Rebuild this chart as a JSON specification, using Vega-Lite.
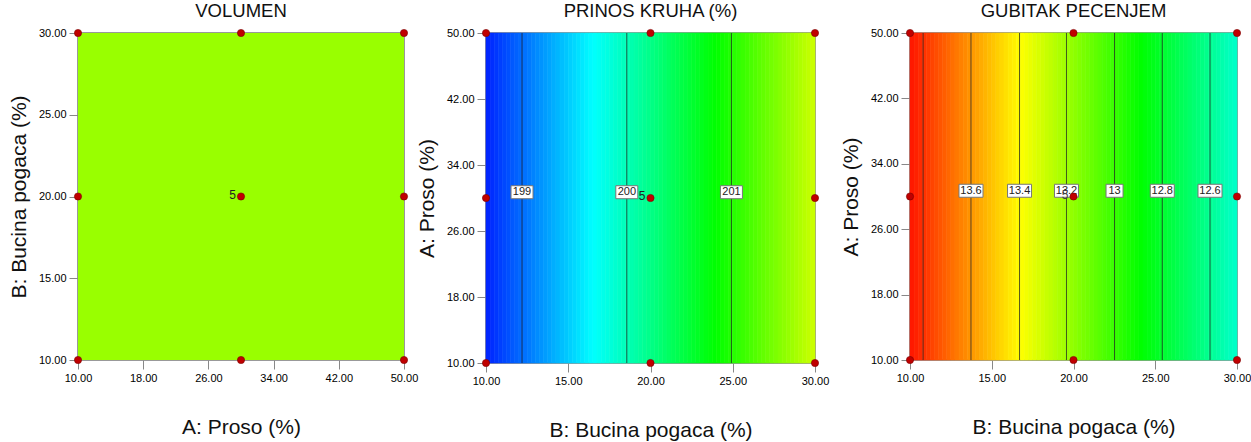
{
"$schema": "https://vega.github.io/schema/vega-lite/v6.json",
"padding": {"left": 7, "top": 1, "right": 0, "bottom": 0},
"bounds": "flush",
"spacing": 82,
"config": {
 "view": {"stroke": "#999999", "strokeWidth": 2},
 "axis": {"grid": false, "domain": false, "tickColor": "#888888", "tickSize": 9, "labelPadding": 3, "labelFont": "Liberation Sans", "labelFontSize": 11, "labelColor": "#000000", "labelFlush": false, "labelOverlap": false, "labelBound": false, "titleFont": "Liberation Sans", "titleFontSize": 21, "titleFontWeight": "normal", "titleColor": "#111111"},
 "axisX": {"titlePadding": 33},
 "axisY": {"titlePadding": 9},
 "title": {"font": "Liberation Sans", "fontSize": 18.5, "fontWeight": "normal", "color": "#111111", "baseline": "alphabetic", "offset": 6.5, "anchor": "middle"}
},
"datasets": {
 "design": [{"A":10,"B":10},{"A":10,"B":20},{"A":10,"B":30},{"A":30,"B":10},{"A":30,"B":20},{"A":30,"B":30},{"A":50,"B":10},{"A":50,"B":20},{"A":50,"B":30}],
 "center": [{"A":30,"B":20,"n":"5"}],
 "vol": [{"A":10,"A2":50,"B":10,"B2":30}],
 "yieldLevels": [{"B":12.19,"level":199},{"B":18.56,"level":200},{"B":24.92,"level":201}],
 "lossLevels": [{"B":10.80,"level":13.8},{"B":13.73,"level":13.6},{"B":16.70,"level":13.4},{"B":19.57,"level":13.2},{"B":22.51,"level":13},{"B":25.43,"level":12.8},{"B":28.35,"level":12.6}],
 "yieldCells": [
{"B":10,"B2":10.25,"v":198.676},{"B":10.25,"B2":10.5,"v":198.715},{"B":10.5,"B2":10.75,"v":198.754},{"B":10.75,"B2":11,"v":198.794},
{"B":11,"B2":11.25,"v":198.833},{"B":11.25,"B2":11.5,"v":198.872},{"B":11.5,"B2":11.75,"v":198.912},{"B":11.75,"B2":12,"v":198.951},
{"B":12,"B2":12.25,"v":198.990},{"B":12.25,"B2":12.5,"v":199.029},{"B":12.5,"B2":12.75,"v":199.069},{"B":12.75,"B2":13,"v":199.108},
{"B":13,"B2":13.25,"v":199.147},{"B":13.25,"B2":13.5,"v":199.187},{"B":13.5,"B2":13.75,"v":199.226},{"B":13.75,"B2":14,"v":199.265},
{"B":14,"B2":14.25,"v":199.304},{"B":14.25,"B2":14.5,"v":199.344},{"B":14.5,"B2":14.75,"v":199.383},{"B":14.75,"B2":15,"v":199.422},
{"B":15,"B2":15.25,"v":199.462},{"B":15.25,"B2":15.5,"v":199.501},{"B":15.5,"B2":15.75,"v":199.540},{"B":15.75,"B2":16,"v":199.579},
{"B":16,"B2":16.25,"v":199.619},{"B":16.25,"B2":16.5,"v":199.658},{"B":16.5,"B2":16.75,"v":199.697},{"B":16.75,"B2":17,"v":199.737},
{"B":17,"B2":17.25,"v":199.776},{"B":17.25,"B2":17.5,"v":199.815},{"B":17.5,"B2":17.75,"v":199.854},{"B":17.75,"B2":18,"v":199.894},
{"B":18,"B2":18.25,"v":199.933},{"B":18.25,"B2":18.5,"v":199.972},{"B":18.5,"B2":18.75,"v":200.012},{"B":18.75,"B2":19,"v":200.051},
{"B":19,"B2":19.25,"v":200.090},{"B":19.25,"B2":19.5,"v":200.129},{"B":19.5,"B2":19.75,"v":200.169},{"B":19.75,"B2":20,"v":200.208},
{"B":20,"B2":20.25,"v":200.247},{"B":20.25,"B2":20.5,"v":200.287},{"B":20.5,"B2":20.75,"v":200.326},{"B":20.75,"B2":21,"v":200.365},
{"B":21,"B2":21.25,"v":200.404},{"B":21.25,"B2":21.5,"v":200.444},{"B":21.5,"B2":21.75,"v":200.483},{"B":21.75,"B2":22,"v":200.522},
{"B":22,"B2":22.25,"v":200.562},{"B":22.25,"B2":22.5,"v":200.601},{"B":22.5,"B2":22.75,"v":200.640},{"B":22.75,"B2":23,"v":200.679},
{"B":23,"B2":23.25,"v":200.719},{"B":23.25,"B2":23.5,"v":200.758},{"B":23.5,"B2":23.75,"v":200.797},{"B":23.75,"B2":24,"v":200.837},
{"B":24,"B2":24.25,"v":200.876},{"B":24.25,"B2":24.5,"v":200.915},{"B":24.5,"B2":24.75,"v":200.954},{"B":24.75,"B2":25,"v":200.994},
{"B":25,"B2":25.25,"v":201.033},{"B":25.25,"B2":25.5,"v":201.072},{"B":25.5,"B2":25.75,"v":201.112},{"B":25.75,"B2":26,"v":201.151},
{"B":26,"B2":26.25,"v":201.190},{"B":26.25,"B2":26.5,"v":201.229},{"B":26.5,"B2":26.75,"v":201.269},{"B":26.75,"B2":27,"v":201.308},
{"B":27,"B2":27.25,"v":201.347},{"B":27.25,"B2":27.5,"v":201.387},{"B":27.5,"B2":27.75,"v":201.426},{"B":27.75,"B2":28,"v":201.465},
{"B":28,"B2":28.25,"v":201.504},{"B":28.25,"B2":28.5,"v":201.544},{"B":28.5,"B2":28.75,"v":201.583},{"B":28.75,"B2":29,"v":201.622},
{"B":29,"B2":29.25,"v":201.662},{"B":29.25,"B2":29.5,"v":201.701},{"B":29.5,"B2":29.75,"v":201.740},{"B":29.75,"B2":30,"v":201.779}
 ],
 "lossCells": [
{"B":10,"B2":10.25,"v":13.8462},{"B":10.25,"B2":10.5,"v":13.8291},{"B":10.5,"B2":10.75,"v":13.8120},{"B":10.75,"B2":11,"v":13.7949},
{"B":11,"B2":11.25,"v":13.7778},{"B":11.25,"B2":11.5,"v":13.7607},{"B":11.5,"B2":11.75,"v":13.7436},{"B":11.75,"B2":12,"v":13.7265},
{"B":12,"B2":12.25,"v":13.7094},{"B":12.25,"B2":12.5,"v":13.6923},{"B":12.5,"B2":12.75,"v":13.6753},{"B":12.75,"B2":13,"v":13.6582},
{"B":13,"B2":13.25,"v":13.6411},{"B":13.25,"B2":13.5,"v":13.6240},{"B":13.5,"B2":13.75,"v":13.6069},{"B":13.75,"B2":14,"v":13.5898},
{"B":14,"B2":14.25,"v":13.5727},{"B":14.25,"B2":14.5,"v":13.5556},{"B":14.5,"B2":14.75,"v":13.5385},{"B":14.75,"B2":15,"v":13.5214},
{"B":15,"B2":15.25,"v":13.5043},{"B":15.25,"B2":15.5,"v":13.4872},{"B":15.5,"B2":15.75,"v":13.4701},{"B":15.75,"B2":16,"v":13.4530},
{"B":16,"B2":16.25,"v":13.4359},{"B":16.25,"B2":16.5,"v":13.4188},{"B":16.5,"B2":16.75,"v":13.4017},{"B":16.75,"B2":17,"v":13.3846},
{"B":17,"B2":17.25,"v":13.3675},{"B":17.25,"B2":17.5,"v":13.3504},{"B":17.5,"B2":17.75,"v":13.3334},{"B":17.75,"B2":18,"v":13.3163},
{"B":18,"B2":18.25,"v":13.2992},{"B":18.25,"B2":18.5,"v":13.2821},{"B":18.5,"B2":18.75,"v":13.2650},{"B":18.75,"B2":19,"v":13.2479},
{"B":19,"B2":19.25,"v":13.2308},{"B":19.25,"B2":19.5,"v":13.2137},{"B":19.5,"B2":19.75,"v":13.1966},{"B":19.75,"B2":20,"v":13.1795},
{"B":20,"B2":20.25,"v":13.1624},{"B":20.25,"B2":20.5,"v":13.1453},{"B":20.5,"B2":20.75,"v":13.1282},{"B":20.75,"B2":21,"v":13.1111},
{"B":21,"B2":21.25,"v":13.0940},{"B":21.25,"B2":21.5,"v":13.0769},{"B":21.5,"B2":21.75,"v":13.0598},{"B":21.75,"B2":22,"v":13.0427},
{"B":22,"B2":22.25,"v":13.0256},{"B":22.25,"B2":22.5,"v":13.0085},{"B":22.5,"B2":22.75,"v":12.9915},{"B":22.75,"B2":23,"v":12.9744},
{"B":23,"B2":23.25,"v":12.9573},{"B":23.25,"B2":23.5,"v":12.9402},{"B":23.5,"B2":23.75,"v":12.9231},{"B":23.75,"B2":24,"v":12.9060},
{"B":24,"B2":24.25,"v":12.8889},{"B":24.25,"B2":24.5,"v":12.8718},{"B":24.5,"B2":24.75,"v":12.8547},{"B":24.75,"B2":25,"v":12.8376},
{"B":25,"B2":25.25,"v":12.8205},{"B":25.25,"B2":25.5,"v":12.8034},{"B":25.5,"B2":25.75,"v":12.7863},{"B":25.75,"B2":26,"v":12.7692},
{"B":26,"B2":26.25,"v":12.7521},{"B":26.25,"B2":26.5,"v":12.7350},{"B":26.5,"B2":26.75,"v":12.7179},{"B":26.75,"B2":27,"v":12.7008},
{"B":27,"B2":27.25,"v":12.6837},{"B":27.25,"B2":27.5,"v":12.6666},{"B":27.5,"B2":27.75,"v":12.6496},{"B":27.75,"B2":28,"v":12.6325},
{"B":28,"B2":28.25,"v":12.6154},{"B":28.25,"B2":28.5,"v":12.5983},{"B":28.5,"B2":28.75,"v":12.5812},{"B":28.75,"B2":29,"v":12.5641},
{"B":29,"B2":29.25,"v":12.5470},{"B":29.25,"B2":29.5,"v":12.5299},{"B":29.5,"B2":29.75,"v":12.5128},{"B":29.75,"B2":30,"v":12.4957}
 ]
},
"resolve": {"scale": {"fill": "independent", "stroke": "independent"}},
"hconcat": [
 {
  "width": 326, "height": 327,
  "title": "VOLUMEN",
  "layer": [
   {"data": {"name": "vol"}, "mark": {"type": "rect", "fill": "#99ff00"},
    "encoding": {
     "x": {"field": "A", "type": "quantitative", "scale": {"domain": [10, 50], "nice": false, "zero": false}, "axis": {"values": [10, 18, 26, 34, 42, 50], "format": ".2f", "title": "A: Proso (%)"}},
     "x2": {"field": "A2"},
     "y": {"field": "B", "type": "quantitative", "scale": {"domain": [10, 30], "nice": false, "zero": false}, "axis": {"values": [10, 15, 20, 25, 30], "format": ".2f", "title": "B: Bucina pogaca (%)"}},
     "y2": {"field": "B2"}
    }},
   {"data": {"name": "center"}, "mark": {"type": "text", "align": "right", "baseline": "middle", "dx": -5, "dy": -2, "font": "Liberation Sans", "fontSize": 12, "color": "#222222"},
    "encoding": {"x": {"field": "A", "type": "quantitative"}, "y": {"field": "B", "type": "quantitative"}, "text": {"field": "n", "type": "nominal"}}},
   {"data": {"name": "design"}, "mark": {"type": "point", "filled": true, "shape": "circle", "size": 52, "color": "#c00000", "stroke": "#7a0000", "strokeWidth": 0.6, "opacity": 1},
    "encoding": {"x": {"field": "A", "type": "quantitative"}, "y": {"field": "B", "type": "quantitative"}}}
  ]
 },
 {
  "bounds": "flush",
  "spacing": 95,
  "resolve": {"scale": {"fill": "independent", "stroke": "independent"}},
  "hconcat": [
   {
    "width": 329, "height": 330,
    "title": "PRINOS KRUHA (%)",
    "layer": [
     {"data": {"name": "yieldCells"}, "mark": {"type": "rect", "strokeWidth": 0.6},
      "encoding": {
       "x": {"field": "B", "type": "quantitative", "scale": {"domain": [10, 30], "nice": false, "zero": false}, "axis": {"values": [10, 15, 20, 25, 30], "format": ".2f", "title": "B: Bucina pogaca (%)"}},
       "x2": {"field": "B2"},
       "y": {"datum": 10, "type": "quantitative", "scale": {"domain": [10, 50], "nice": false, "zero": false}, "axis": {"values": [10, 18, 26, 34, 42, 50], "format": ".2f", "title": "A: Proso (%)"}},
       "y2": {"datum": 50},
       "fill": {"field": "v", "type": "quantitative", "scale": {"domain": [198.50, 199.68, 200.85, 202.03, 203.21], "range": ["#0000ff", "#00ffff", "#00ff00", "#ffff00", "#ff0000"], "interpolate": "rgb"}, "legend": null},
       "stroke": {"field": "v", "type": "quantitative", "scale": {"domain": [198.50, 199.68, 200.85, 202.03, 203.21], "range": ["#0000ff", "#00ffff", "#00ff00", "#ffff00", "#ff0000"], "interpolate": "rgb"}, "legend": null}
      }},
     {"data": {"name": "yieldLevels"}, "mark": {"type": "rule", "color": "#222222", "opacity": 0.75, "strokeWidth": 1},
      "encoding": {"x": {"field": "B", "type": "quantitative"}, "y": {"datum": 10, "type": "quantitative"}, "y2": {"datum": 50}}},
     {"data": {"name": "yieldLevels"}, "mark": {"type": "rect", "width": 22, "height": 13, "fill": "#ffffff", "stroke": "#777777", "strokeWidth": 1},
      "encoding": {"x": {"field": "B", "type": "quantitative"}, "y": {"datum": 30.7, "type": "quantitative"}}},
     {"data": {"name": "yieldLevels"}, "mark": {"type": "text", "align": "center", "baseline": "middle", "font": "Liberation Sans", "fontSize": 11, "color": "#222222"},
      "encoding": {"x": {"field": "B", "type": "quantitative"}, "y": {"datum": 30.7, "type": "quantitative"}, "text": {"field": "level", "type": "nominal"}}},
     {"data": {"name": "center"}, "mark": {"type": "text", "align": "right", "baseline": "middle", "dx": -5, "dy": -2, "font": "Liberation Sans", "fontSize": 12, "color": "#222222"},
      "encoding": {"x": {"field": "B", "type": "quantitative"}, "y": {"field": "A", "type": "quantitative"}, "text": {"field": "n", "type": "nominal"}}},
     {"data": {"name": "design"}, "mark": {"type": "point", "filled": true, "shape": "circle", "size": 52, "color": "#c00000", "stroke": "#7a0000", "strokeWidth": 0.6, "opacity": 1},
      "encoding": {"x": {"field": "B", "type": "quantitative"}, "y": {"field": "A", "type": "quantitative"}}}
    ]
   },
   {
    "width": 327, "height": 327,
    "title": "GUBITAK PECENJEM",
    "layer": [
     {"data": {"name": "lossCells"}, "mark": {"type": "rect", "strokeWidth": 0.6},
      "encoding": {
       "x": {"field": "B", "type": "quantitative", "scale": {"domain": [10, 30], "nice": false, "zero": false}, "axis": {"values": [10, 15, 20, 25, 30], "format": ".2f", "title": "B: Bucina pogaca (%)"}},
       "x2": {"field": "B2"},
       "y": {"datum": 10, "type": "quantitative", "scale": {"domain": [10, 50], "nice": false, "zero": false}, "axis": {"values": [10, 18, 26, 34, 42, 50], "format": ".2f", "title": "A: Proso (%)"}},
       "y2": {"datum": 50},
       "fill": {"field": "v", "type": "quantitative", "scale": {"domain": [11.883, 12.386, 12.889, 13.392, 13.895], "range": ["#0000ff", "#00ffff", "#00ff00", "#ffff00", "#ff0000"], "interpolate": "rgb"}, "legend": null},
       "stroke": {"field": "v", "type": "quantitative", "scale": {"domain": [11.883, 12.386, 12.889, 13.392, 13.895], "range": ["#0000ff", "#00ffff", "#00ff00", "#ffff00", "#ff0000"], "interpolate": "rgb"}, "legend": null}
      }},
     {"data": {"name": "lossLevels"}, "mark": {"type": "rule", "color": "#222222", "opacity": 0.75, "strokeWidth": 1},
      "encoding": {"x": {"field": "B", "type": "quantitative"}, "y": {"datum": 10, "type": "quantitative"}, "y2": {"datum": 50}}},
     {"data": {"name": "lossLevels"}, "transform": [{"filter": "datum.level <= 13.6 && datum.level != 13"}],
      "mark": {"type": "rect", "width": 24, "height": 13, "fill": "#ffffff", "stroke": "#777777", "strokeWidth": 1},
      "encoding": {"x": {"field": "B", "type": "quantitative"}, "y": {"datum": 30.7, "type": "quantitative"}}},
     {"data": {"name": "lossLevels"}, "transform": [{"filter": "datum.level == 13"}],
      "mark": {"type": "rect", "width": 17, "height": 13, "fill": "#ffffff", "stroke": "#777777", "strokeWidth": 1},
      "encoding": {"x": {"field": "B", "type": "quantitative"}, "y": {"datum": 30.7, "type": "quantitative"}}},
     {"data": {"name": "lossLevels"}, "transform": [{"filter": "datum.level <= 13.6"}],
      "mark": {"type": "text", "align": "center", "baseline": "middle", "font": "Liberation Sans", "fontSize": 11, "color": "#222222"},
      "encoding": {"x": {"field": "B", "type": "quantitative"}, "y": {"datum": 30.7, "type": "quantitative"}, "text": {"field": "level", "type": "nominal"}}},
     {"data": {"name": "center"}, "mark": {"type": "text", "align": "right", "baseline": "middle", "dx": -5, "dy": -2, "font": "Liberation Sans", "fontSize": 12, "color": "#444444"},
      "encoding": {"x": {"field": "B", "type": "quantitative"}, "y": {"field": "A", "type": "quantitative"}, "text": {"field": "n", "type": "nominal"}}},
     {"data": {"name": "design"}, "mark": {"type": "point", "filled": true, "shape": "circle", "size": 52, "color": "#c00000", "stroke": "#7a0000", "strokeWidth": 0.6, "opacity": 1},
      "encoding": {"x": {"field": "B", "type": "quantitative"}, "y": {"field": "A", "type": "quantitative"}}}
    ]
   }
  ]
 }
]
}
